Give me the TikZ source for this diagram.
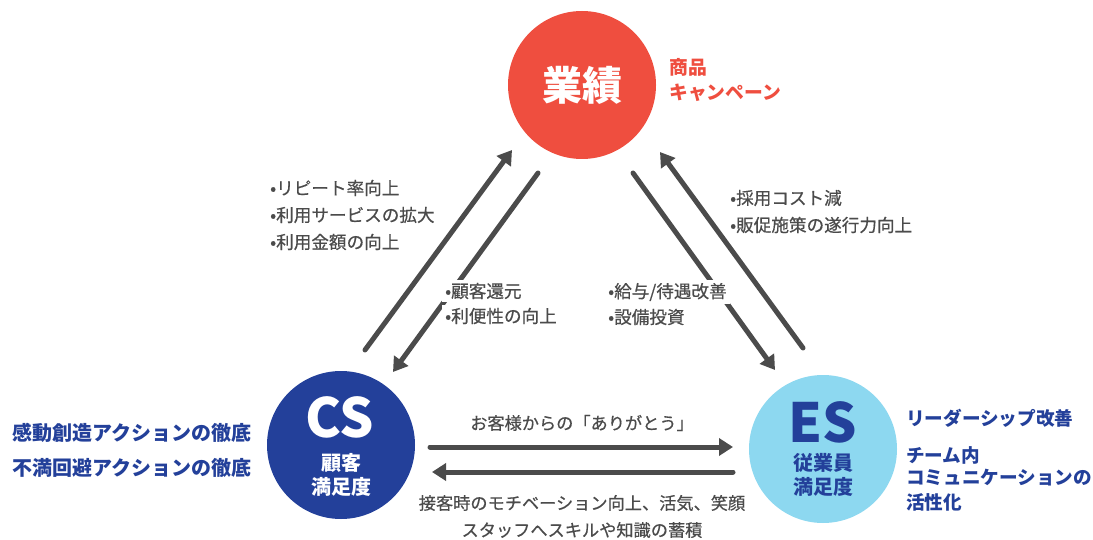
\documentclass[tikz,border=0pt]{standalone}
\usepackage{fontspec}
\setmainfont{Noto Sans CJK JP}
\newfontfamily\medfont[FakeBold=0.5]{Noto Sans CJK JP}
\usetikzlibrary{arrows.meta}
\definecolor{cred}{HTML}{EF4E3F}
\definecolor{cblue}{HTML}{23409A}
\definecolor{clight}{HTML}{8DD8F0}
\definecolor{cgray}{HTML}{4B4B4B}
\begin{document}
\begin{tikzpicture}[x=1pt,y=-1pt,
  circ/.style={circle, minimum size=148pt, inner sep=0pt},
  arr/.style={line width=5pt, draw=cgray, line cap=round, -{Triangle[length=14pt,width=17pt]}},
  gtext/.style={text=cgray, font=\medfont\fontsize{17.6}{20}\selectfont, anchor=west, fill=white, inner sep=3pt},
  btext/.style={text=cblue, font=\fontsize{20}{22}\selectfont\bfseries, anchor=west, inner sep=0pt},
  bbtext/.style={text=cblue, font=\fontsize{18.6}{22}\selectfont\bfseries, anchor=west, inner sep=0pt},
  rtext/.style={text=cred, font=\fontsize{18.8}{22}\selectfont\bfseries, anchor=west, inner sep=0pt},
  ctext/.style={text=cgray, font=\medfont\fontsize{17.2}{20}\selectfont, inner sep=0pt},
  big/.style={font=\fontsize{54}{54}\selectfont\bfseries, anchor=base, inner sep=0pt},
  sub/.style={font=\fontsize{20}{22}\selectfont\bfseries, inner sep=0pt}
]
\fill[white] (0,0) rectangle (1093,540);
\useasboundingbox (0,0) rectangle (1093,540);

% circles
\node[circ, fill=cred] (gyo) at (582,85) {};
\node[circ, fill=cblue] (cs) at (341,445) {};
\node[circ, fill=clight] (es) at (823,449) {};

\node[text=white, font=\fontsize{40}{40}\selectfont\bfseries, inner sep=0pt] (gyot) at (582,85) {業績};
\node[big, text=white] (cst) at (340,437) {CS};
\node[sub, text=white] (cs1) at (341,463) {顧客};
\node[sub, text=white] (cs2) at (341,487) {満足度};
\node[big, text=cblue] (est) at (823,442) {ES};
\node[sub, text=cblue] (es1) at (823,463) {従業員};
\node[sub, text=cblue] (es2) at (823,487) {満足度};

% arrow end points
\coordinate (a1s) at (365,350); \coordinate (a1e) at (512,150);
\coordinate (a2s) at (538,173); \coordinate (a2e) at (393,372);
\coordinate (a3s) at (633,173); \coordinate (a3e) at (775,370);
\coordinate (a4s) at (803,348); \coordinate (a4e) at (660,152);
\coordinate (a5s) at (430,447); \coordinate (a5e) at (733,447);
\coordinate (a6s) at (733,472); \coordinate (a6e) at (432,472);
\draw[arr] (a1s) -- (a1e);
\draw[arr] (a2s) -- (a2e);
\draw[arr] (a3s) -- (a3e);
\draw[arr] (a4s) -- (a4e);
\draw[arr] (a5s) -- (a5e);
\draw[arr] (a6s) -- (a6e);

% gray lists
\node[gtext] (l1) at (267,188) {•リピート率向上};
\node[gtext] (l2) at (267,215) {•利用サービスの拡大};
\node[gtext] (l3) at (267,242) {•利用金額の向上};
\node[gtext] (m1) at (442,291) {•顧客還元};
\node[gtext] (m2) at (442,316) {•利便性の向上};
\node[gtext] (n1) at (605,292) {•給与/待遇改善};
\node[gtext] (n2) at (605,317) {•設備投資};
\node[gtext] (r1) at (727,198) {•採用コスト減};
\node[gtext] (r2) at (727,225) {•販促施策の遂行力向上};

% red
\node[rtext] (k1) at (669,67) {商品};
\node[rtext] (k2) at (669,93) {キャンペーン};

% blue left
\node[btext] (b1) at (12,433) {感動創造アクションの徹底};
\node[btext] (b2) at (12,468) {不満回避アクションの徹底};

% blue right
\node[bbtext] (e1) at (906,418) {リーダーシップ改善};
\node[bbtext] (e2) at (906,455) {チーム内};
\node[bbtext] (e3) at (906,478) {コミュニケーションの};
\node[bbtext] (e4) at (906,502) {活性化};

% bottom
\node[ctext] (t1) at (582,423) {お客様からの「ありがとう」};
\node[ctext] (t2) at (582,503) {接客時のモチベーション向上、活気、笑顔};
\node[ctext] (t3) at (582,530) {スタッフへスキルや知識の蓄積};
\end{tikzpicture}
\end{document}
